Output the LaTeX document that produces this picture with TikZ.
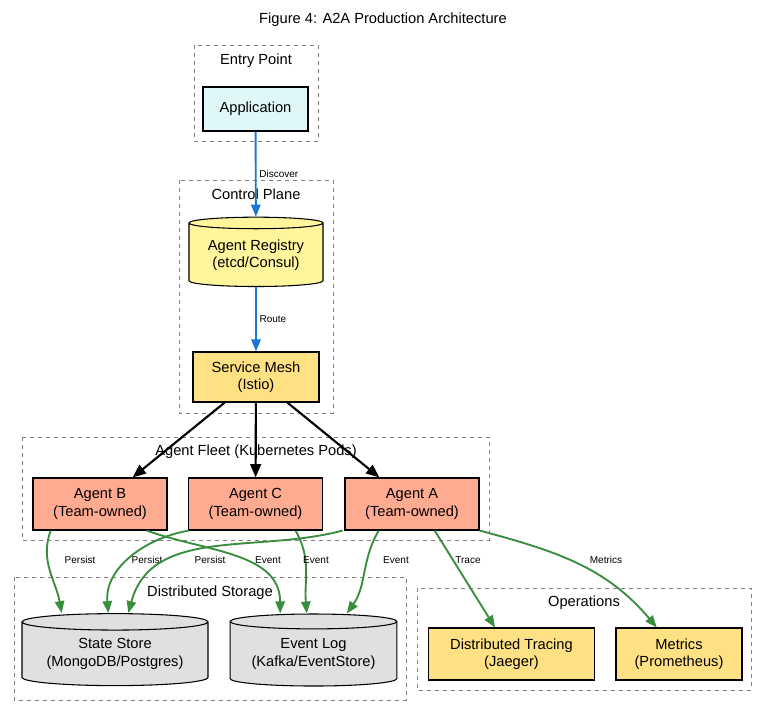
\documentclass[tikz,border=0pt]{standalone}
\usepackage{fontspec}
\setmainfont{Liberation Sans}
\usetikzlibrary{positioning,shapes.geometric,arrows.meta}
\definecolor{appfill}{HTML}{E0F7FA}
\definecolor{regfill}{HTML}{FFF59D}
\definecolor{boxfill}{HTML}{FFE082}
\definecolor{agentfill}{HTML}{FFAB91}
\definecolor{storefill}{HTML}{E0E0E0}
\definecolor{blueedge}{HTML}{1976D2}
\definecolor{greenedge}{HTML}{388E3C}
\tikzset{
  cluster/.style = {draw=gray, dashed},
  clabel/.style = {font=\fontsize{11}{13}\selectfont},
  box/.style = {draw, thick, align=center, font=\fontsize{11}{13}\selectfont, inner sep=0pt},
  db/.style = {box, cylinder, shape border rotate=90, aspect=0.12},
  elabel/.style = {font=\fontsize{7.5}{9}\selectfont, inner sep=1pt},
  blue arrow/.style = {draw=blueedge, line width=1.4pt, -{Triangle[length=9pt,width=7pt]}},
  black arrow/.style = {draw=black, line width=1.6pt, -{Triangle[length=10pt,width=8pt]}},
  green arrow/.style = {draw=greenedge, line width=1.4pt, -{Triangle[length=9pt,width=7pt]}}
}
\begin{document}
\begin{tikzpicture}[x=0.75pt, y=-0.75pt]
\useasboundingbox (0,0) rectangle (767,716);
\node[font=\fontsize{11}{13}\selectfont] (title) at (383,20) {Figure 4: A2A Production Architecture};

% clusters
\draw[cluster] (194,45) rectangle (318,141);
\node[clabel] (entry) at (256,61) {Entry Point};
\draw[cluster] (179,180) rectangle (333,413);
\node[clabel] (control) at (256,194) {Control Plane};
\draw[cluster] (22,437) rectangle (489,540);
\draw[cluster] (14,577) rectangle (406,700);
\draw[cluster] (417,588) rectangle (751,690);

% nodes
\node[box, fill=appfill, minimum width=78.75pt, minimum height=33pt] (app) at (255.5,109) {Application};
\node[db, fill=regfill, minimum width=100.5pt, minimum height=52pt] (reg) at (256,255) {Agent Registry\\(etcd/Consul)};
\node[box, fill=boxfill, minimum width=94.5pt, minimum height=37.5pt] (mesh) at (256,377) {Service Mesh\\(Istio)};
\node[box, fill=agentfill, minimum width=100.5pt, minimum height=39pt] (agb) at (100,504) {Agent B\\(Team-owned)};
\node[box, fill=agentfill, minimum width=100.5pt, minimum height=39pt] (agc) at (255.5,504) {Agent C\\(Team-owned)};
\node[box, fill=agentfill, minimum width=100.5pt, minimum height=39pt] (aga) at (412,504) {Agent A\\(Team-owned)};
\node[db, fill=storefill, minimum width=139.5pt, minimum height=54pt] (state) at (115,654) {State Store\\(MongoDB/Postgres)};
\node[db, fill=storefill, minimum width=125pt, minimum height=54pt] (evlog) at (313.5,654) {Event Log\\(Kafka/EventStore)};
\node[box, fill=boxfill, minimum width=125pt, minimum height=39pt] (trace) at (511.5,654) {Distributed Tracing\\(Jaeger)};
\node[box, fill=boxfill, minimum width=94.5pt, minimum height=39pt] (metrics) at (679,654) {Metrics\\(Prometheus)};

% edges
\draw[blue arrow] (app) -- node[elabel, right=1pt] {Discover} (reg);
\draw[blue arrow] (reg) -- node[elabel, right=1pt] {Route} (mesh);
\draw[black arrow] (mesh) -- (agb);
\draw[black arrow] (mesh) -- (agc);
\draw[black arrow] (mesh) -- (aga);
\node[clabel] (fleet) at (256,452) {Agent Fleet (Kubernetes Pods)};

\draw[green arrow] ([xshift=-37]agb.south) to[out=-110,in=100] ([xshift=-40]state.north);
\node[elabel] (lpb) at (80,560) {Persist};
\draw[green arrow] ([xshift=-50]agc.south) to[out=-170,in=95] ([xshift=-5]state.north);
\node[elabel] (lpc) at (147,560) {Persist};
\draw[green arrow] ([xshift=-52]aga.south) to[out=-165,in=75] ([xshift=10]state.north);
\node[elabel] (lpa) at (210,560) {Persist};
\draw[green arrow] ([xshift=35]agb.south) to[out=-20,in=90] ([xshift=-25]evlog.north);
\node[elabel] (leb) at (268,560) {Event};
\draw[green arrow] ([xshift=30]agc.south) to[out=-60,in=95] ([xshift=-5]evlog.north);
\node[elabel] (lec) at (316,560) {Event};
\draw[green arrow] ([xshift=-25]aga.south) to[out=-120,in=55] ([xshift=25]evlog.north);
\node[elabel] (lea) at (396,560) {Event};
\draw[green arrow] ([xshift=17]aga.south) -- (trace);
\node[elabel] (ltr) at (468,560) {Trace};
\draw[green arrow] (aga.south east) to[out=-15,in=130] (metrics);
\node[elabel] (lme) at (606,560) {Metrics};
\node[clabel] (storage) at (210,593) {Distributed Storage};
\node[clabel, fill=white, inner sep=1pt] (ops) at (584,603) {Operations};
\end{tikzpicture}
\end{document}
